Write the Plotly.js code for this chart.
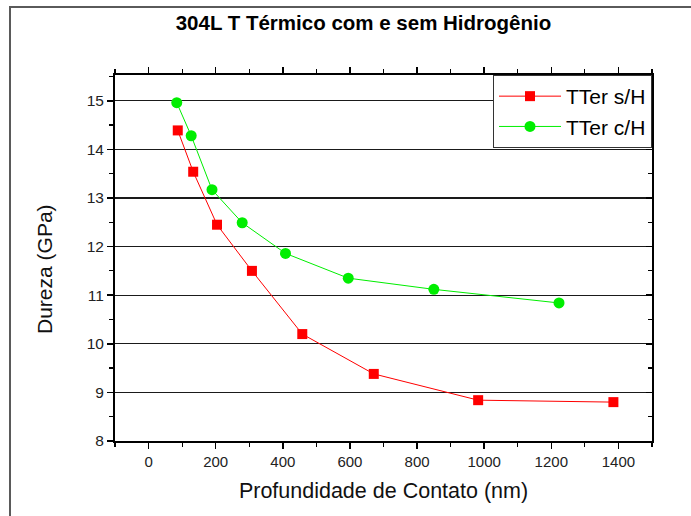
<!DOCTYPE html>
<html>
<head>
<meta charset="utf-8">
<script src="https://cdn.plot.ly/plotly-3.0.1.min.js"></script>
<style>
  html, body { margin: 0; padding: 0; background: #fff; }
  #wrap { position: relative; width: 691px; height: 516px; overflow: hidden; }
  #frame { position: absolute; left: 9px; top: 6px; width: 700px; height: 540px;
           border-left: 2px solid #5a5a5a; border-top: 2px solid #5a5a5a; pointer-events: none; z-index: 5; }
  #chart { position: absolute; left: 0; top: 0; width: 691px; height: 516px; }
</style>
</head>
<body>
<div id="wrap">
  <div id="chart"></div>
  <div id="frame"></div>
</div>
<script>
// Profundidade de contato (nm) e dureza (GPa) — sem hidrogênio
const semH_x = [87, 133, 204, 308, 458, 671, 982, 1385];
const semH_y = [14.39, 13.54, 12.45, 11.50, 10.20, 9.38, 8.84, 8.80];
// Com hidrogênio
const comH_x = [84, 127, 189, 279, 408, 595, 850, 1223];
const comH_y = [14.96, 14.28, 13.17, 12.49, 11.86, 11.35, 11.12, 10.84];

const seriesNames = ['TTer s/H', 'TTer c/H'];
const xTickVals = [0, 200, 400, 600, 800, 1000, 1200, 1400];
const yTickVals = [8, 9, 10, 11, 12, 13, 14, 15];

const font = 'Arial, "Liberation Sans", Helvetica, sans-serif';

const traces = [
  {
    x: semH_x, y: semH_y, name: seriesNames[0], type: 'scatter', mode: 'lines+markers',
    line: { color: '#ff0000', width: 1 },
    marker: { symbol: 'square', size: 10, color: '#ff0000' }
  },
  {
    x: comH_x, y: comH_y, name: seriesNames[1], type: 'scatter', mode: 'lines+markers',
    line: { color: '#00ee00', width: 1 },
    marker: { symbol: 'circle', size: 11, color: '#00ee00' }
  },
  // carrier for the right-hand axis (inward ticks)
  { x: [], y: [], yaxis: 'y2', showlegend: false, hoverinfo: 'skip', type: 'scatter' }
];

const yRange = [8, 15.53];

const layout = {
  width: 691, height: 516,
  margin: { l: 115, r: 39, t: 75, b: 75 },
  paper_bgcolor: '#ffffff', plot_bgcolor: '#ffffff',
  font: { family: font, color: '#000' },
  title: {
    text: '<b>304L T Térmico com e sem Hidrogênio</b>',
    font: { family: font, size: 20.5, color: '#000' },
    x: 0.526, xref: 'container', xanchor: 'center',
    y: 0.955, yref: 'container', yanchor: 'middle'
  },
  xaxis: {
    range: [-100, 1500], tickvals: xTickVals, ticktext: xTickVals.map(String),
    ticks: 'outside', ticklen: 6, tickwidth: 1.5, tickcolor: '#000',
    minor: { dtick: 100, tick0: 0, ticks: 'outside', ticklen: 4, tickwidth: 1.2, tickcolor: '#000', showgrid: false },
    showline: true, linecolor: '#000', linewidth: 2, mirror: 'ticks',
    showgrid: false, zeroline: false,
    tickfont: { family: font, size: 15, color: '#222' },
    title: { text: 'Profundidade de Contato (nm)', font: { family: font, size: 21.5, color: '#111' }, standoff: 14 }
  },
  yaxis: {
    range: yRange, tickvals: yTickVals, ticktext: yTickVals.map(String),
    ticks: 'outside', ticklen: 6, tickwidth: 1.5, tickcolor: '#000',
    minor: { dtick: 0.5, tick0: 8, ticks: 'outside', ticklen: 4, tickwidth: 1.2, tickcolor: '#000', showgrid: false },
    showline: true, linecolor: '#000', linewidth: 2, mirror: true,
    showgrid: true, gridcolor: '#1a1a1a', gridwidth: 1.3, zeroline: false,
    tickfont: { family: font, size: 15.5, color: '#222' }
  },
  yaxis2: {
    overlaying: 'y', side: 'right', range: yRange, tickvals: yTickVals,
    ticks: 'inside', ticklen: 6, tickwidth: 1.5, tickcolor: '#000',
    minor: { dtick: 0.5, tick0: 8, ticks: 'inside', ticklen: 4, tickwidth: 1.2, tickcolor: '#000', showgrid: false },
    showticklabels: false, showgrid: false, zeroline: false, showline: false
  },
  // vertical axis title, sitting a little below the plot's midline
  annotations: [{
    text: 'Dureza (GPa)', textangle: -90, showarrow: false,
    xref: 'paper', yref: 'paper', x: 0, y: 0.47,
    xanchor: 'center', yanchor: 'middle', xshift: -70,
    font: { family: font, size: 21, color: '#111' }
  }],
  showlegend: true,
  legend: {
    x: 1, xanchor: 'right', y: 1, yanchor: 'top',
    bgcolor: '#ffffff', bordercolor: '#333', borderwidth: 1,
    font: { family: font, size: 21, color: '#000' },
    itemwidth: 62, tracegroupgap: 2
  }
};

Plotly.newPlot('chart', traces, layout, { displayModeBar: false, staticPlot: true });
</script>
</body>
</html>
